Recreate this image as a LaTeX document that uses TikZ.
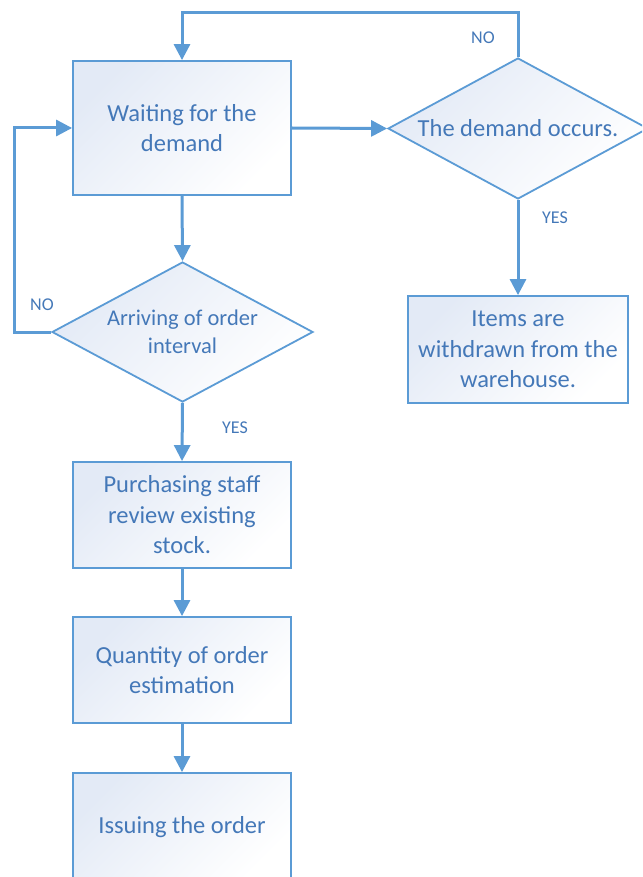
\documentclass[tikz,border=0pt]{standalone}
\usepackage{fontspec}
\setmainfont{Carlito}
\usetikzlibrary{shapes.geometric,arrows.meta}
\definecolor{lineblue}{HTML}{5B9BD5}
\definecolor{textblue}{HTML}{4478B8}
\definecolor{fillblue}{HTML}{E3EAF6}
\tikzset{
  boxbase/.style={draw=lineblue, line width=1.8pt, top color=fillblue, bottom color=white, shading angle=45,
    text=textblue, font=\fontsize{24.5}{30.5}\selectfont, align=center, inner sep=0pt},
  procbox/.style={boxbase, rectangle, minimum width=218pt},
  decbox/.style={boxbase, diamond, aspect=1.85},
  conn/.style={draw=lineblue, line width=3pt, -{Triangle[length=16pt,width=16pt]}},
  lbl/.style={text=textblue, font=\fontsize{18}{20}\selectfont, inner sep=0pt}
}
\begin{document}
\begin{tikzpicture}[x=1pt,y=-1pt]
\useasboundingbox (0,0) rectangle (642,877);
\clip (0,0) rectangle (642,877);
\node[procbox, minimum height=134pt] (w) at (182,128) {Waiting for the\\demand};
\node[decbox, minimum width=260pt, minimum height=141pt] (d2) at (518,128.5) {The demand occurs.};
\node[procbox, minimum width=220pt, minimum height=107pt] (items) at (518,349.5) {Items are\\withdrawn from the\\warehouse.};
\node[decbox, minimum width=261pt, minimum height=140pt, font=\fontsize{22.5}{28}\selectfont] (d1) at (182.5,332) {Arriving of order\\interval};
\node[procbox, minimum height=106pt] (p) at (182,515) {Purchasing staff\\review existing\\stock.};
\node[procbox, minimum height=106pt] (q) at (182,670) {Quantity of order\\estimation};
\node[procbox, minimum height=108pt] (iss) at (182,827) {Issuing the order};

\draw[conn] (w.east) -- (d2.west);
\draw[conn] (d2.north) -- ++(0,-45) -| (w.north);
\draw[conn] (d2.south) -- (items.north);
\draw[conn] (w.south) -- (d1.north);
\draw[conn] (d1.west) -- ++(-37,0) |- (w.west);
\draw[conn] (d1.south) -- (p.north);
\draw[conn] (p.south) -- (q.north);
\draw[conn] (q.south) -- (iss.north);

\node[lbl] (no2) at (483,38) {NO};
\node[lbl] (yes2) at (555,218) {YES};
\node[lbl] (no1) at (42,305) {NO};
\node[lbl] (yes1) at (235,428) {YES};
\end{tikzpicture}
\end{document}
